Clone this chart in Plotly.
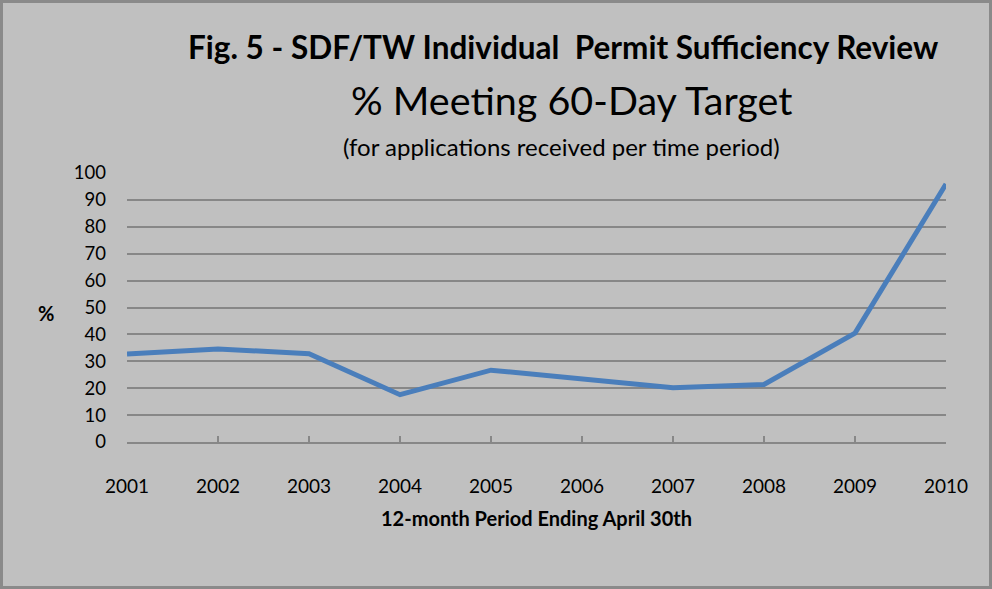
import plotly.graph_objects as go

# Reporting periods (12 months ending April 30th) and % meeting the 60-day target
years = ["2001", "2002", "2003", "2004", "2005", "2006", "2007", "2008", "2009", "2010"]
pct_meeting = [32.7, 34.6, 32.8, 17.6, 26.7, 23.3, 20.2, 21.4, 40.5, 95.9]
y_ticks = [0, 10, 20, 30, 40, 50, 60, 70, 80, 90, 100]

W, H = 992, 589
L, R, T, B = 127, 46, 173, 147
PW, PH = W - L - R, H - T - B
BG = "#c0c0c0"
GRID = "#878787"
FONT = "Lato, 'Open Sans', sans-serif"


def px(x):
    return (x - L) / PW


def py(y):
    return (H - B - y) / PH


fig = go.Figure()
fig.add_trace(go.Scatter(
    x=list(range(len(years))), y=pct_meeting, mode="lines",
    line=dict(color="#4a7ebb", width=5), hoverinfo="x+y", showlegend=False,
))

fig.update_layout(
    width=W, height=H,
    margin=dict(l=L, r=R, t=T, b=B),
    paper_bgcolor=BG, plot_bgcolor=BG,
    font=dict(family=FONT, color="#000000"),
    xaxis=dict(
        tickmode="array", tickvals=list(range(len(years))), ticktext=years,
        range=[0, len(years) - 1], showgrid=False, zeroline=False,
        showline=True, linecolor=GRID, linewidth=2,
        ticks="inside", ticklen=6, tickwidth=1.5, tickcolor=GRID,
        tickfont=dict(size=19, family=FONT), ticklabelstandoff=26,
    ),
    yaxis=dict(
        range=[0, 100], tickvals=y_ticks, showgrid=True, gridcolor=GRID,
        gridwidth=1.5, zeroline=False, showline=False, ticks="",
        tickfont=dict(size=18.5, family=FONT), ticklabelstandoff=20,
    ),
    annotations=[
        dict(text="<b>Fig. 5 - SDF/TW Individual  Permit Sufficiency Review</b>",
             x=px(563), y=py(47), xref="paper", yref="paper",
             xanchor="center", yanchor="middle", showarrow=False,
             font=dict(size=31.5, family=FONT)),
        dict(text="% Meeting 60-Day Target",
             x=px(571), y=py(99), xref="paper", yref="paper",
             xanchor="center", yanchor="middle", showarrow=False,
             font=dict(size=39.5, family=FONT)),
        dict(text="(for applications received per time period)",
             x=px(561), y=py(147), xref="paper", yref="paper",
             xanchor="center", yanchor="middle", showarrow=False,
             font=dict(size=24, family=FONT)),
        dict(text="<b>%</b>",
             x=px(45.5), y=py(313), xref="paper", yref="paper",
             xanchor="center", yanchor="middle", showarrow=False,
             font=dict(size=20, family=FONT)),
        dict(text="<b>12-month Period Ending April 30th</b>",
             x=px(536), y=py(518), xref="paper", yref="paper",
             xanchor="center", yanchor="middle", showarrow=False,
             font=dict(size=20, family=FONT)),
    ],
    shapes=[
        dict(type="rect", xref="paper", yref="paper",
             x0=px(1.5), x1=px(990.5), y0=py(587.5), y1=py(1.5),
             line=dict(color="#8a8a8a", width=3), fillcolor="rgba(0,0,0,0)"),
    ],
)

fig.write_html("out.html")
